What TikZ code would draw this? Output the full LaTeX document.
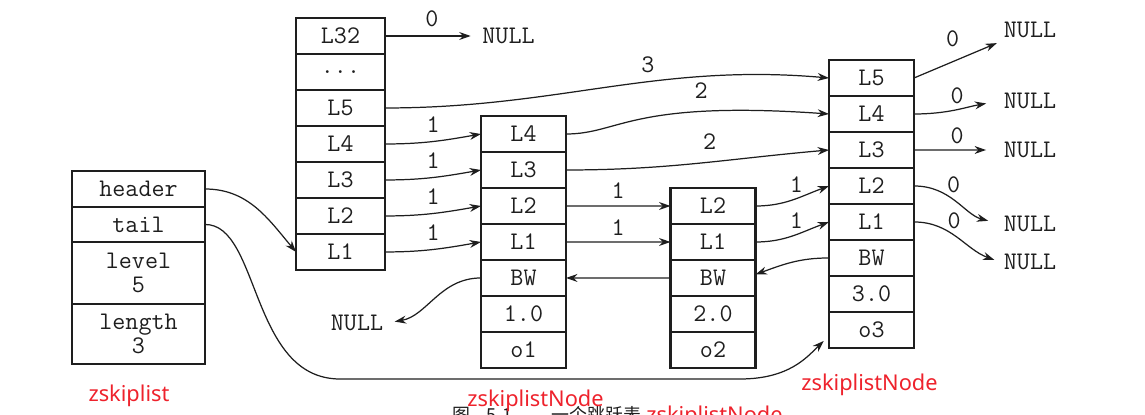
\documentclass[tikz,border=0pt]{standalone}
\usepackage{fontspec}
\newfontfamily\tagfont{Noto Sans}
\newfontfamily\cjkfont{Noto Sans CJK SC}
\usetikzlibrary{arrows.meta,positioning}
\definecolor{ink}{RGB}{30,30,30}
\definecolor{tagred}{RGB}{238,34,44}

\begin{document}
\begin{tikzpicture}[
    x=0.02cm, y=-0.02cm,
    cell/.style={draw=ink, line width=1.2pt, minimum width=1.7cm, minimum height=0.72cm, inner sep=0pt, outer sep=0pt, text=ink, font=\fontsize{14.4}{14}\selectfont\ttfamily},
    hcell/.style={cell, minimum width=1.78cm},
    zcell/.style={cell, minimum width=2.66cm, align=center},
    nullbox/.style={text=ink, inner sep=2pt, font=\fontsize{14.4}{14}\selectfont\ttfamily},
    lbl/.style={text=ink, inner sep=2pt, font=\fontsize{14.4}{14}\selectfont\ttfamily},
    arrow/.style={draw=ink, line width=0.7pt, -{Stealth[length=6.5pt,width=4.5pt]}},
    redtag/.style={text=tagred, inner sep=0pt, font=\fontsize{12.4}{14}\selectfont\tagfont}
]
    \useasboundingbox (0,0) rectangle (1145,415);

    % zskiplist
    \node (zheader) [zcell] at (138.5,189) {header};
    \node (ztail) [zcell, minimum height=0.70cm, below=0pt of zheader] {tail};
    \node (zlevel) [zcell, minimum height=1.24cm, below=0pt of ztail] {level\\5};
    \node (zlength) [zcell, minimum height=1.2cm, below=0pt of zlevel] {length\\3};

    % header node
    \node (h32) [hcell] at (340.5,36) {L32};
    \node (hdots) [hcell, below=0pt of h32] {...};
    \node (h5) [hcell, below=0pt of hdots] {L5};
    \node (h4) [hcell, below=0pt of h5] {L4};
    \node (h3) [hcell, below=0pt of h4] {L3};
    \node (h2) [hcell, below=0pt of h3] {L2};
    \node (h1) [hcell, below=0pt of h2] {L1};

    % node o1
    \node (n1l4) [cell] at (523.5,134) {L4};
    \node (n1l3) [cell, below=0pt of n1l4] {L3};
    \node (n1l2) [cell, below=0pt of n1l3] {L2};
    \node (n1l1) [cell, below=0pt of n1l2] {L1};
    \node (n1bw) [cell, below=0pt of n1l1] {BW};
    \node (n1score) [cell, below=0pt of n1bw] {1.0};
    \node (n1obj) [cell, below=0pt of n1score] {o1};

    % node o2
    \node (n2l2) [cell] at (713,206) {L2};
    \node (n2l1) [cell, below=0pt of n2l2] {L1};
    \node (n2bw) [cell, below=0pt of n2l1] {BW};
    \node (n2score) [cell, below=0pt of n2bw] {2.0};
    \node (n2obj) [cell, below=0pt of n2score] {o2};

    % node o3
    \node (n3l5) [cell] at (871.5,78) {L5};
    \node (n3l4) [cell, below=0pt of n3l5] {L4};
    \node (n3l3) [cell, below=0pt of n3l4] {L3};
    \node (n3l2) [cell, below=0pt of n3l3] {L2};
    \node (n3l1) [cell, below=0pt of n3l2] {L1};
    \node (n3bw) [cell, below=0pt of n3l1] {BW};
    \node (n3score) [cell, below=0pt of n3bw] {3.0};
    \node (n3obj) [cell, below=0pt of n3score] {o3};

    % NULL ends
    \node (nullh) [nullbox] at (508.5,36) {NULL};
    \node (nullbw) [nullbox] at (357,323) {NULL};
    \node (null5) [nullbox] at (1030,30) {NULL};
    \node (null4) [nullbox] at (1030,101) {NULL};
    \node (null3) [nullbox] at (1030,150) {NULL};
    \node (null2) [nullbox] at (1030,224) {NULL};
    \node (null1) [nullbox] at (1030,262) {NULL};

    % zskiplist pointers
    \draw [arrow] (zheader.east) to[out=0, in=130] (h1.west);
    \draw [arrow] (ztail.east) .. controls (260,224) and (250,379) .. (340,379) -- (740,379) .. controls (790,379) and (808,356) .. ([xshift=-3pt,yshift=4pt]n3obj.south west);

    % header levels
    \draw [arrow, shorten >=4.5pt] (h32) -- node[lbl, above=3pt] {0} (nullh);
    \draw [arrow] (h5.east) to[out=0, in=175] node[lbl, pos=0.6, above=3pt] {3} (n3l5.west);
    \draw [arrow] (h4.east) to[out=0, in=190] node[lbl, above=3pt] {1} (n1l4.west);
    \draw [arrow] (h3.east) to[out=0, in=190] node[lbl, above=3pt] {1} (n1l3.west);
    \draw [arrow] (h2.east) to[out=0, in=190] node[lbl, above=3pt] {1} (n1l2.west);
    \draw [arrow] (h1.east) to[out=0, in=190] node[lbl, above=3pt] {1} (n1l1.west);

    % node o1
    \draw [arrow] (n1l4.east) .. controls (620,134) and (630,100) .. node[lbl, pos=0.72, above=5pt] {2} (n3l4.west);
    \draw [arrow] (n1l3.east) to[out=0, in=185] node[lbl, pos=0.55, above=5pt] {2} (n3l3.west);
    \draw [arrow] (n1l2) -- node[lbl, above=2pt] {1} (n2l2);
    \draw [arrow] (n1l1) -- node[lbl, above=1.5pt] {1} (n2l1);
    \draw [arrow, shorten >=4.5pt] (n1bw.west) to[out=180, in=10] (nullbw.east);

    % node o2
    \draw [arrow] (n2l2.east) to[out=0, in=200] node[lbl, pos=0.55, above=1pt] {1} (n3l2.west);
    \draw [arrow] (n2l1.east) to[out=0, in=200] node[lbl, pos=0.55, above=1pt] {1} (n3l1.west);
    \draw [arrow] (n2bw) -- (n1bw);

    % node o3
    \draw [arrow] (n3bw.west) to[out=180, in=20] ([yshift=2pt]n2bw.east);
    \draw [arrow, shorten >=2pt] (n3l5.east) -- node[lbl, pos=0.45, above=6pt] {0} (null5.south west);
    \draw [arrow, shorten >=8pt] (n3l4.east) to[out=0, in=190] node[lbl, above=1pt] {0} (null4.west);
    \draw [arrow, shorten >=8pt] (n3l3) -- node[lbl, above=1pt] {0} (null3);
    \draw [arrow, shorten >=7pt] (n3l2.east) to[out=0, in=165] node[lbl, pos=0.45, above=1pt] {0} (null2.west);
    \draw [arrow, shorten >=3.5pt] (n3l1.east) to[out=0, in=160] node[lbl, pos=0.45, above=1pt] {0} (null1.west);

    % caption and red tags
    \node (caption) [anchor=base west, inner sep=0pt, text=ink, font=\fontsize{10.2}{12}\selectfont\cjkfont] at (452,421) {图\hspace{0.9em}5-1\hspace{2.2em}一个跳跃表};
    \node (tagz) [redtag] at (129,396) {zskiplist};
    \node (tag1) [redtag] at (535.5,401) {zskiplistNode};
    \node (tag2) [redtag] at (714.5,417) {zskiplistNode};
    \node (tag3) [redtag] at (869.5,385) {zskiplistNode};
\end{tikzpicture}
\end{document}
